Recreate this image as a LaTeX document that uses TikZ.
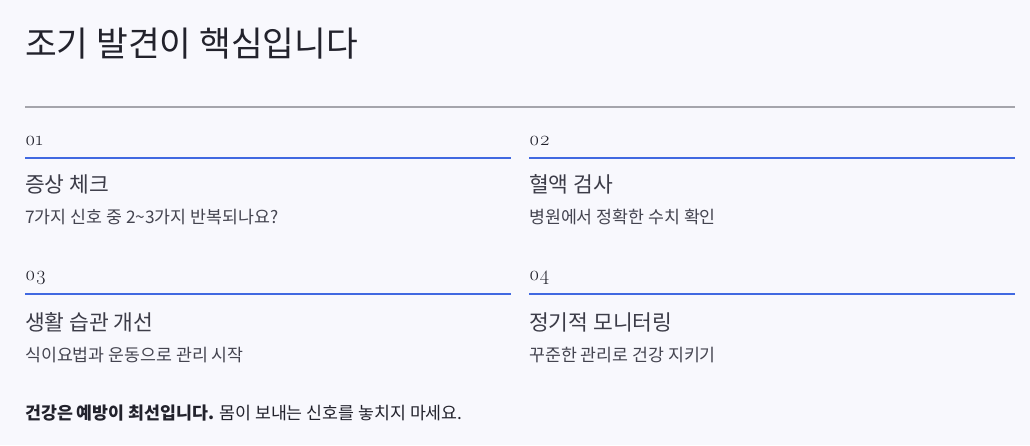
\documentclass[tikz,border=0pt]{standalone}
\usepackage{fontspec}
\setmainfont{Liberation Serif}
\newfontfamily\kr{Noto Sans CJK KR}
\newfontfamily\numfont[Numbers=OldStyle]{Latin Modern Roman}
\definecolor{bg}{RGB}{248,248,253}
\definecolor{titlec}{RGB}{34,34,44}
\definecolor{headc}{RGB}{60,60,72}
\definecolor{subc}{RGB}{68,68,80}
\definecolor{rulegray}{RGB}{165,165,172}
\definecolor{accent}{RGB}{65,105,225}
\tikzset{
  x=1pt, y=-1pt,
  title/.style={anchor=west, inner sep=0pt, text=titlec, font=\kr\fontsize{34.5}{40}\selectfont},
  numlbl/.style={anchor=west, inner sep=0pt, text=titlec, font=\numfont\fontsize{20}{24}\selectfont},
  heading/.style={anchor=west, inner sep=0pt, text=headc, font=\kr\fontsize{21.5}{26}\selectfont},
  subtext/.style={anchor=west, inner sep=0pt, text=subc, font=\kr\fontsize{17.3}{20}\selectfont},
  footer/.style={anchor=west, inner sep=0pt, text=titlec, font=\kr\fontsize{17.3}{20}\selectfont},
  accentrule/.style={draw=accent, line width=2pt},
  grayrule/.style={draw=rulegray, line width=2pt},
}
\begin{document}
\begin{tikzpicture}
\fill[bg] (0,0) rectangle (1030,445);
\useasboundingbox (0,0) rectangle (1030,445);

\node[title] (t) at (25,44) {조기 발견이 핵심입니다};
\coordinate (g1) at (25,107);
\coordinate (g2) at (1015,107);
\draw[grayrule] (g1) -- (g2);

% item 01
\node[numlbl] (n1) at (25,141) {\oldstylenums{01}};
\coordinate (a1) at (25,158); \coordinate (b1) at (511,158);
\draw[accentrule] (a1) -- (b1);
\node[heading] (h1) at (25,184) {증상 체크};
\node[subtext] (s1) at (25,217) {7가지 신호 중 2\textasciitilde3가지 반복되나요?};

% item 02
\node[numlbl] (n2) at (529,141) {\oldstylenums{02}};
\coordinate (a2) at (529,158); \coordinate (b2) at (1015,158);
\draw[accentrule] (a2) -- (b2);
\node[heading] (h2) at (529,184) {혈액 검사};
\node[subtext] (s2) at (529,217) {병원에서 정확한 수치 확인};

% item 03
\node[numlbl] (n3) at (25,278) {\oldstylenums{03}};
\coordinate (a3) at (25,294); \coordinate (b3) at (511,294);
\draw[accentrule] (a3) -- (b3);
\node[heading] (h3) at (25,322) {생활 습관 개선};
\node[subtext] (s3) at (25,355) {식이요법과 운동으로 관리 시작};

% item 04
\node[numlbl] (n4) at (529,278) {\oldstylenums{04}};
\coordinate (a4) at (529,294); \coordinate (b4) at (1015,294);
\draw[accentrule] (a4) -- (b4);
\node[heading] (h4) at (529,322) {정기적 모니터링};
\node[subtext] (s4) at (529,355) {꾸준한 관리로 건강 지키기};

\node[footer] (f) at (25,413) {\textbf{건강은 예방이 최선입니다.} 몸이 보내는 신호를 놓치지 마세요.};
\end{tikzpicture}
\end{document}
